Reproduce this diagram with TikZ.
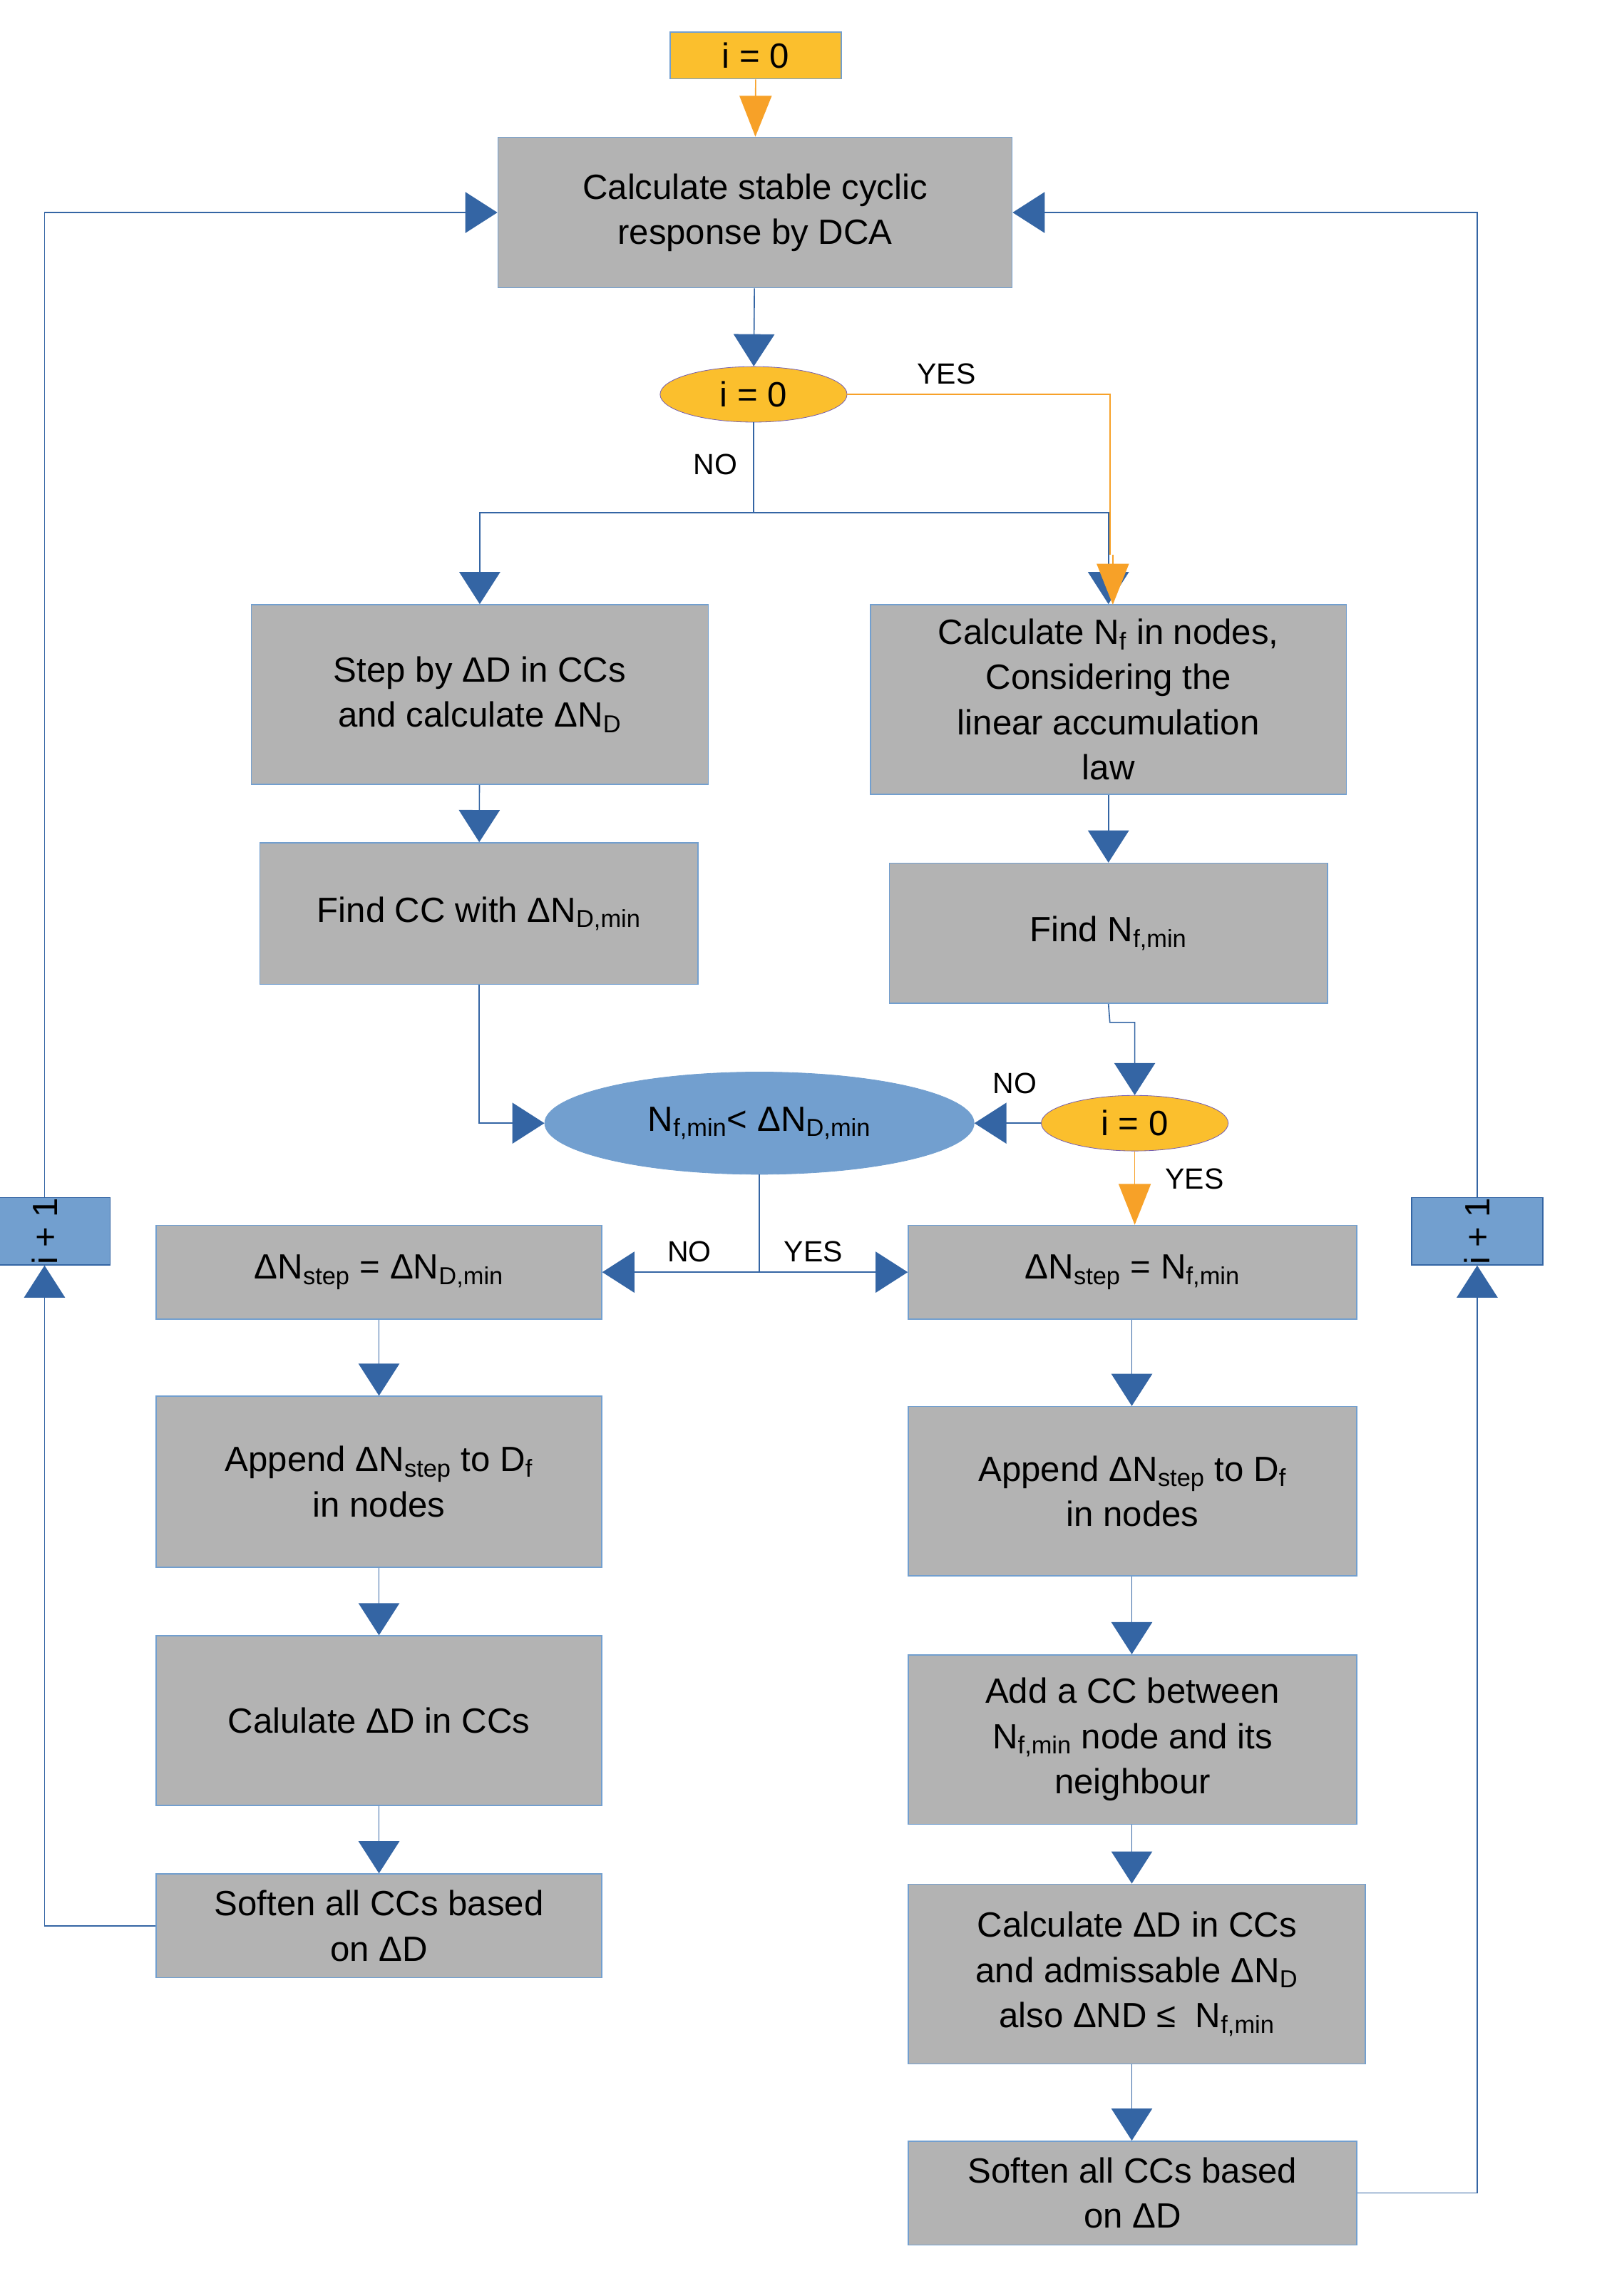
\documentclass[tikz,border=0pt]{standalone}
\usepackage{fontspec}
\setmainfont{Liberation Sans}
\usetikzlibrary{arrows.meta,shapes.geometric}
\definecolor{bx}{HTML}{B3B3B3}
\definecolor{bd}{HTML}{729FCF}
\definecolor{ar}{HTML}{3465A4}
\definecolor{og}{HTML}{FBBF2D}
\definecolor{ogl}{HTML}{F7A128}
\newcommand{\sub}[1]{\textsubscript{#1}}
\newcommand{\mybox}[6]{\node[box,minimum width={#4-#2},minimum height={#5-#3}] (#1) at ({(#2+#4)/2},{(#3+#5)/2}) {#6};}
\begin{document}
\begin{tikzpicture}[x=1pt,y=-1pt,
 box/.style={draw=bd,line width=0.8pt,fill=bx,inner sep=0pt,align=center,font=\fontsize{24}{31}\selectfont},
 ell/.style={ellipse,draw=bd!60!violet,fill=og,inner sep=0pt,font=\fontsize{24}{31}\selectfont},
 ln/.style={ar,line width=0.8pt},
 arr/.style={ln,-{Triangle[width=28pt,length=22pt]}},
 oarr/.style={ogl,line width=0.8pt,-{Triangle[width=22pt,length=28pt]}},
 lab/.style={font=\fontsize{20}{24}\selectfont}]
\useasboundingbox (0,0) rectangle (1100,1572);
\node[box,fill=og,minimum width=117,minimum height=32] (t0) at (517.5,38) {i = 0};
\mybox{calc}{341}{94}{693}{197}{Calculate stable cyclic\\response by DCA}
\node[ell,minimum width=128,minimum height=38] (e1) at (516,270) {i = 0};
\mybox{step}{172}{414}{485}{537}{Step by ΔD in CCs\\and calculate ΔN\sub{D}}
\mybox{cnf}{596}{414}{922}{544}{Calculate N\sub{f} in nodes,\\Considering the\\linear accumulation\\law}
\mybox{fcc}{178}{577}{478}{674}{Find CC with ΔN\sub{D,min}}
\mybox{fnf}{609}{591}{909}{687}{Find N\sub{f,min}}
\node[ellipse,draw=bd,fill=bd,minimum width=294,minimum height=70,inner sep=0pt,font=\fontsize{24}{31}\selectfont] (cmp) at (520,769) {N\sub{f,min}< ΔN\sub{D,min}};
\node[ell,minimum width=128,minimum height=38] (e2) at (777,769) {i = 0};
\mybox{sl}{107}{839}{412}{903}{ΔN\sub{step} = ΔN\sub{D,min}}
\mybox{sr}{622}{839}{929}{903}{ΔN\sub{step} = N\sub{f,min}}
\mybox{al}{107}{956}{412}{1073}{Append ΔN\sub{step} to D\sub{f}\\in nodes}
\mybox{ar2}{622}{963}{929}{1079}{Append ΔN\sub{step} to D\sub{f}\\in nodes}
\mybox{cl}{107}{1120}{412}{1236}{Calulate ΔD in CCs}
\mybox{add}{622}{1133}{929}{1249}{Add a CC between\\N\sub{f,min} node and its\\neighbour}
\mybox{softl}{107}{1283}{412}{1354}{Soften all CCs based\\on ΔD}
\mybox{cr}{622}{1290}{935}{1413}{Calculate ΔD in CCs\\and admissable ΔN\sub{D}\\also ΔND ≤\ \ N\sub{f,min}}
\mybox{softr}{622}{1466}{929}{1537}{Soften all CCs based\\on ΔD}
\node[box,fill=bd,draw=ar,minimum width=31,minimum height=90,rotate=90] (il) at (30.5,843) {i + 1};
\node[box,fill=bd,draw=ar,minimum width=31,minimum height=90,rotate=90] (ir) at (1011.5,843) {i + 1};
% connectors
\draw[oarr] (t0) -- (calc);
\draw[arr] (calc) -- (e1);
\draw[ogl,line width=0.8pt] (e1.east) -- (760,270) -- (760,380);
\draw[ln] (e1.south) -- (516,351) coordinate (m1);
\draw[arr] (m1) -| (step.north);
\draw[arr] (m1) -| (cnf.north);
\draw[oarr] (762,380) -- (762,414);
\node[lab] at (648,256) {YES};
\node[lab] at (490,318) {NO};
\draw[arr] (step) -- (fcc);
\draw[arr] (cnf) -- (fnf);
\draw[arr] (fcc.south) |- (cmp.west);
\draw[arr] (fnf.south) -- (760,700) -| (e2.north);
\draw[arr] (e2.west) -- (cmp.east);
\node[lab] at (695,742) {NO};
\draw[oarr] (e2.south) -- (sr.north-|e2.south);
\node[lab] at (818,807) {YES};
\draw[ln] (cmp.south) -- (520,871) coordinate (m2);
\draw[arr] (m2) -- (sl.east);
\draw[arr] (m2) -- (sr.east-|sr.west);
\node[lab] at (472,857) {NO};
\node[lab] at (557,857) {YES};
\draw[arr] (sl) -- (al);
\draw[arr] (al) -- (cl);
\draw[arr] (cl) -- (softl);
\draw[arr] (sr.south-|775,0) -- (ar2.north-|775,0);
\draw[arr] (ar2.south-|775,0) -- (add.north-|775,0);
\draw[arr] (add.south-|775,0) -- (cr.north-|775,0);
\draw[arr] (cr.south-|775,0) -- (softr.north-|775,0);
\draw[arr] (softl.west) -| (il.west);
\draw[arr] (il.east) |- (calc.west);
\draw[arr] (softr.east) -| (ir.west);
\draw[arr] (ir.east) |- (calc.east);
\end{tikzpicture}
\end{document}
